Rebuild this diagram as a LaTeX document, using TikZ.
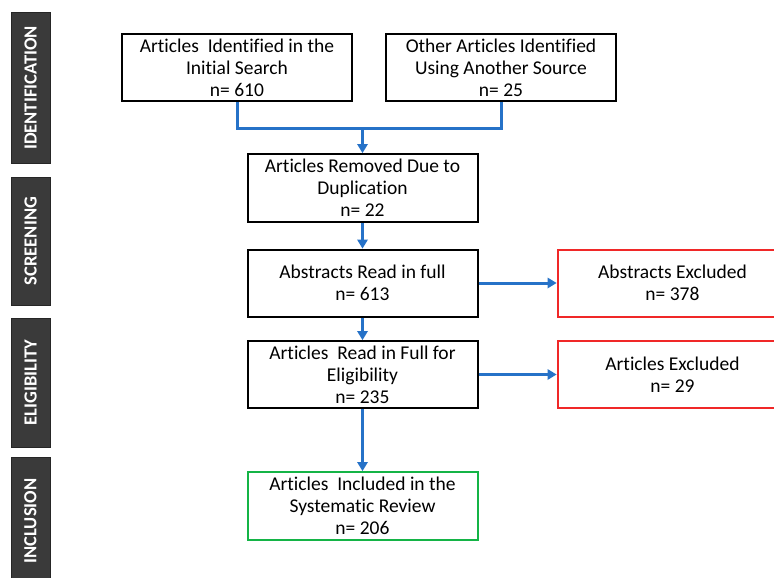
\documentclass[tikz,border=0pt]{standalone}
\usepackage{fontspec}
\setmainfont[Ligatures = CommonOff]{Carlito}
\usetikzlibrary{positioning}
\usetikzlibrary{arrows.meta}

\definecolor{flowblue}{RGB}{38,114,200}
\definecolor{stagegray}{RGB}{58,58,58}
\definecolor{exclred}{RGB}{240,40,40}
\definecolor{inclgreen}{RGB}{20,180,70}

\tikzset{
	stepbox/.style = {draw, line width = 2pt, align = center, minimum width = 230pt, minimum height = 67pt, inner sep = 2pt, font = \fontsize{19.5}{22}\selectfont},
	stage/.style = {draw = black!85, fill = stagegray, line width = 1pt, minimum height = 39pt, text = white, rotate = 90, font = \fontsize{18.5}{20}\selectfont\bfseries},
	flow/.style = {draw = flowblue, line width = 3pt}
}

\begin{document}
\begin{tikzpicture}[x = 1pt, y = -1pt, >={Triangle[length = 9pt, width = 11pt, line width = 0pt]}]
			\clip (0,0) rectangle (774,578);
			\fill[white] (0,0) rectangle (774,578);
			% stages
			\node[stage, minimum width = 150pt] (ident) at (30.5,88) {IDENTIFICATION};
			\node[stage, minimum width = 128pt] (screen) at (30.5,241) {SCREENING};
			\node[stage, minimum width = 129pt] (elig) at (30.5,382.5) {ELIGIBILITY};
			\node[stage, minimum width = 128pt] (incl) at (30.5,521) {INCLUSION};
			% boxes
			\node[stepbox] (initial) at (237,67.5) {Articles~ Identified in the \\ Initial Search \\ n= 610};
			\node[stepbox] (other) at (501,67.5) {Other Articles Identified \\ Using Another Source \\ n= 25};
			\node[stepbox, minimum height = 68pt] (removed) at (362.5,188) {Articles Removed Due to \\ Duplication \\ n= 22};
			\node[stepbox] (abstracts) at (362.5,283) {Abstracts Read in full \\ n= 613};
			\node[stepbox, draw = exclred, right = 78pt of abstracts] (absexcl) {Abstracts Excluded \\ n= 378};
			\node[stepbox] (fulltext) at (362.5,374.5) {Articles~ Read in Full for \\ Eligibility \\ n= 235};
			\node[stepbox, draw = exclred, right = 78pt of fulltext] (artexcl) {Articles Excluded \\ n= 29};
			\node[stepbox, draw = inclgreen, minimum height = 68pt] (included) at (362.5,506) {Articles~ Included in the \\ Systematic Review \\ n= 206};
			% connectors
			\coordinate (join) at (362.5,128);
			\draw[flow] (initial.south) |- (join) -| (other.south);
			\draw[flow, ->] (join) -- (removed.north);
			\draw[flow, ->] (removed) -- (abstracts);
			\draw[flow, ->] (abstracts) -- (absexcl);
			\draw[flow, ->] (abstracts) -- (fulltext);
			\draw[flow, ->] (fulltext) -- (artexcl);
			\draw[flow, ->] (fulltext) -- (included);
		\end{tikzpicture}
\end{document}
